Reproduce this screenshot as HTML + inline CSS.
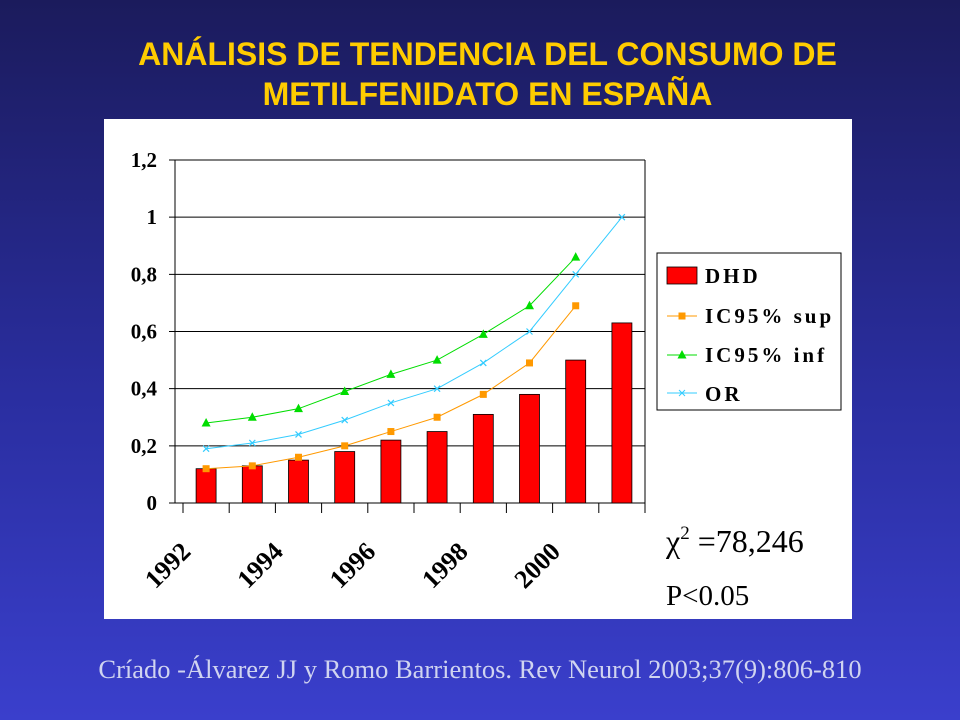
<!DOCTYPE html>
<html><head><meta charset="utf-8"><style>
body{margin:0;width:960px;height:720px;overflow:hidden;background:linear-gradient(#1b1b5c,#2a2ea0 55%,#3a3fcc);font-family:"Liberation Sans",sans-serif}
.t{position:absolute;left:0;width:975px;text-align:center;color:#ffcc00;font-weight:bold;font-size:32px}
</style></head><body>
<div class="t" style="top:36px">ANÁLISIS DE TENDENCIA DEL CONSUMO DE</div>
<div class="t" style="top:76px">METILFENIDATO EN ESPAÑA</div>
<svg width="960" height="720" style="position:absolute;left:0;top:0">
<rect x="104" y="119" width="748" height="500" fill="#fff"/>
<g id="g"></g>
<text x="666" y="552" font-family="Liberation Serif,serif" font-size="32">χ<tspan font-size="19" dy="-13">2</tspan><tspan dy="13"> =78,246</tspan></text>
<text x="666" y="605" font-family="Liberation Serif,serif" font-size="29">P&lt;0.05</text>
</svg>
<div style="position:absolute;left:0;width:960px;top:654px;text-align:center;color:#d0d4f0;font-family:'Liberation Serif',serif;font-size:26.5px">Críado -Álvarez JJ y Romo Barrientos. Rev Neurol 2003;37(9):806-810</div>
<script>
const categories=["1992","1993","1994","1995","1996","1997","1998","1999","2000","2001"];
const dhd=[0.12,0.13,0.15,0.18,0.22,0.25,0.31,0.38,0.50,0.63];
const icSup=[0.12,0.13,0.16,0.20,0.25,0.30,0.38,0.49,0.69];
const icInf=[0.28,0.30,0.33,0.39,0.45,0.50,0.59,0.69,0.86];
const orVals=[0.19,0.21,0.24,0.29,0.35,0.40,0.49,0.60,0.80,1.00];
const yTicks=["0","0,2","0,4","0,6","0,8","1","1,2"];
const NS="http://www.w3.org/2000/svg",g=document.getElementById('g');
const AX=175,L=183,R=645,T=160,B=503,cw=(R-L)/categories.length;
const y=v=>B-(v/1.2)*(B-T), xc=i=>L+cw*(i+0.5);
function mk(t,a,p){const e=document.createElementNS(NS,t);for(const k in a)e.setAttribute(k,a[k]);(p||g).appendChild(e);return e;}
yTicks.forEach((s,i)=>{const v=i*0.2,yy=y(v);
const l=mk('line',{x1:AX-6,x2:R,y1:yy,y2:yy,stroke:'#000','stroke-width':1});


const t=mk('text',{x:157,y:yy+7,'text-anchor':'end','font-family':'Liberation Serif,serif','font-size':21,'font-weight':'bold'});t.textContent=s;

});
mk('line',{x1:AX,x2:AX,y1:T,y2:B,stroke:'#000'});
mk('line',{x1:R,x2:R,y1:T,y2:B,stroke:'#000'});
for(let i=0;i<=categories.length;i++)mk('line',{x1:L+cw*i,x2:L+cw*i,y1:B,y2:B+10,stroke:'#000'});
dhd.forEach((v,i)=>{const r=mk('rect',{x:xc(i)-10,y:y(v),width:20,height:B-y(v),fill:'#ff0000',stroke:'#000','stroke-width':0.8});

});
categories.forEach((c,i)=>{if(i%2)return;const t=mk('text',{'text-anchor':'end','font-family':'Liberation Serif,serif','font-size':26,'font-weight':'bold',transform:`translate(${xc(i)-14},553) rotate(-45)`});t.textContent=c;

});
function series(vals,col,mark,name){const p=vals.map((v,i)=>xc(i)+','+y(v)).join(' ');
const pl=mk('polyline',{points:p,fill:'none',stroke:col,'stroke-width':1});


vals.forEach((v,i)=>{const X=xc(i),Y=y(v);let m;
if(mark=='sq')m=mk('rect',{x:X-3.5,y:Y-3.5,width:7,height:7,fill:col});
else if(mark=='tri')m=mk('polygon',{points:`${X},${Y-5} ${X-4.5},${Y+3.5} ${X+4.5},${Y+3.5}`,fill:col});
else m=mk('path',{d:`M${X-3},${Y-3}L${X+3},${Y+3}M${X+3},${Y-3}L${X-3},${Y+3}`,stroke:col,'stroke-width':1.2});

});}
series(icSup,'#ff9900','sq','ic95-sup');
series(icInf,'#00dd00','tri','ic95-inf');
series(orVals,'#33ccff','x','or');
const lg=mk('g',{});
mk('rect',{x:657,y:253,width:184,height:157,fill:'#fff',stroke:'#000'},lg);
mk('rect',{x:667,y:267,width:30,height:17,fill:'#ff0000',stroke:'#000','stroke-width':0.8},lg);
[['DHD',283],['IC95% sup',323],['IC95% inf',362],['OR',401]].forEach((a,i)=>{const t=mk('text',{x:705,y:a[1],'font-family':'Liberation Serif,serif','font-size':21,'font-weight':'bold','letter-spacing':3},lg);t.textContent=a[0];

});
mk('line',{x1:667,x2:697,y1:316,y2:316,stroke:'#ff9900'},lg);mk('rect',{x:678.5,y:312.5,width:7,height:7,fill:'#ff9900'},lg);
mk('line',{x1:667,x2:697,y1:355,y2:355,stroke:'#00dd00'},lg);mk('polygon',{points:'682,350 677.5,358.5 686.5,358.5',fill:'#00dd00'},lg);
mk('line',{x1:667,x2:697,y1:393,y2:393,stroke:'#33ccff'},lg);mk('path',{d:'M679,390L685,396M685,390L679,396',stroke:'#33ccff'},lg);
</script>
</body></html>
